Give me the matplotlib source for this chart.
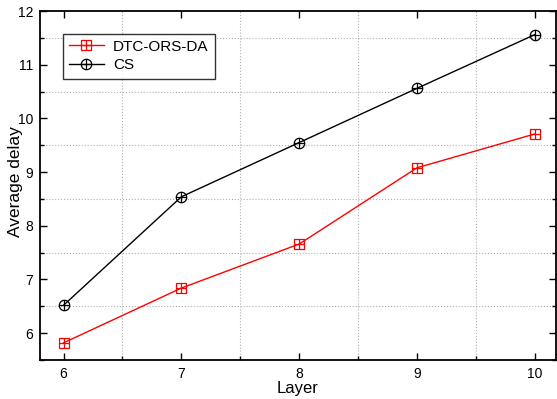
import matplotlib
matplotlib.use("Agg")
import matplotlib.pyplot as plt
from matplotlib.path import Path
from matplotlib.ticker import MultipleLocator

plt.rcParams['font.family'] = ['Liberation Sans', 'DejaVu Sans']

layers = [6, 7, 8, 9, 10]
dtc_delay = [5.82, 6.84, 7.66, 9.08, 9.71]
cs_delay = [6.52, 8.54, 9.55, 10.56, 11.56]

# square with a cross inside
box_plus = Path(
    [(-1, -1), (1, -1), (1, 1), (-1, 1), (-1, -1),
     (0, -1), (0, 1), (-1, 0), (1, 0)],
    [Path.MOVETO, Path.LINETO, Path.LINETO, Path.LINETO, Path.CLOSEPOLY,
     Path.MOVETO, Path.LINETO, Path.MOVETO, Path.LINETO])

# circle with a cross inside
circ = Path.unit_circle()
circle_plus = Path.make_compound_path(
    circ,
    Path([(0, -1), (0, 1)], [Path.MOVETO, Path.LINETO]),
    Path([(-1, 0), (1, 0)], [Path.MOVETO, Path.LINETO]))

fig = plt.figure(figsize=(5.57, 3.99), dpi=100)
ax = fig.add_axes([0.0718, 0.0977, 0.9264, 0.8747])

ax.plot(layers, dtc_delay, color='red', lw=1.0, marker=box_plus,
        markersize=7, markerfacecolor='none', markeredgecolor='red',
        markeredgewidth=0.9, label='DTC-ORS-DA')
ax.plot(layers, cs_delay, color='black', lw=1.0, marker=circle_plus,
        markersize=7.5, markerfacecolor='none', markeredgecolor='black',
        markeredgewidth=0.9, label='CS')

ax.set_xlim(5.8, 10.18)
ax.set_ylim(5.5, 12)
ax.xaxis.set_major_locator(MultipleLocator(1))
ax.xaxis.set_minor_locator(MultipleLocator(0.5))
ax.yaxis.set_major_locator(MultipleLocator(1))
ax.yaxis.set_minor_locator(MultipleLocator(0.5))

ax.tick_params(which='major', direction='in', length=5, width=1,
               top=True, right=True, labelsize=10, pad=5)
ax.tick_params(which='minor', direction='in', length=3, width=1,
               top=False, right=True)

ax.grid(which='minor', linestyle=':', color='#b0b0b0', linewidth=0.8)
ax.grid(which='major', visible=False)

for s in ax.spines.values():
    s.set_linewidth(1.3)

ax.set_xlabel('Layer', fontsize=12, labelpad=0)
ax.set_ylabel('Average delay', fontsize=12.5)
ax.yaxis.set_label_coords(-0.033, 0.51)

leg = ax.legend(loc='upper left', bbox_to_anchor=(0.044, 0.935), fontsize=11,
                frameon=True, fancybox=False, edgecolor='black',
                borderpad=0.4, handlelength=2.3, labelspacing=0.3,
                handletextpad=0.6, borderaxespad=0)
leg.get_frame().set_linewidth(1.0)

fig.savefig('out.png', dpi=100)
